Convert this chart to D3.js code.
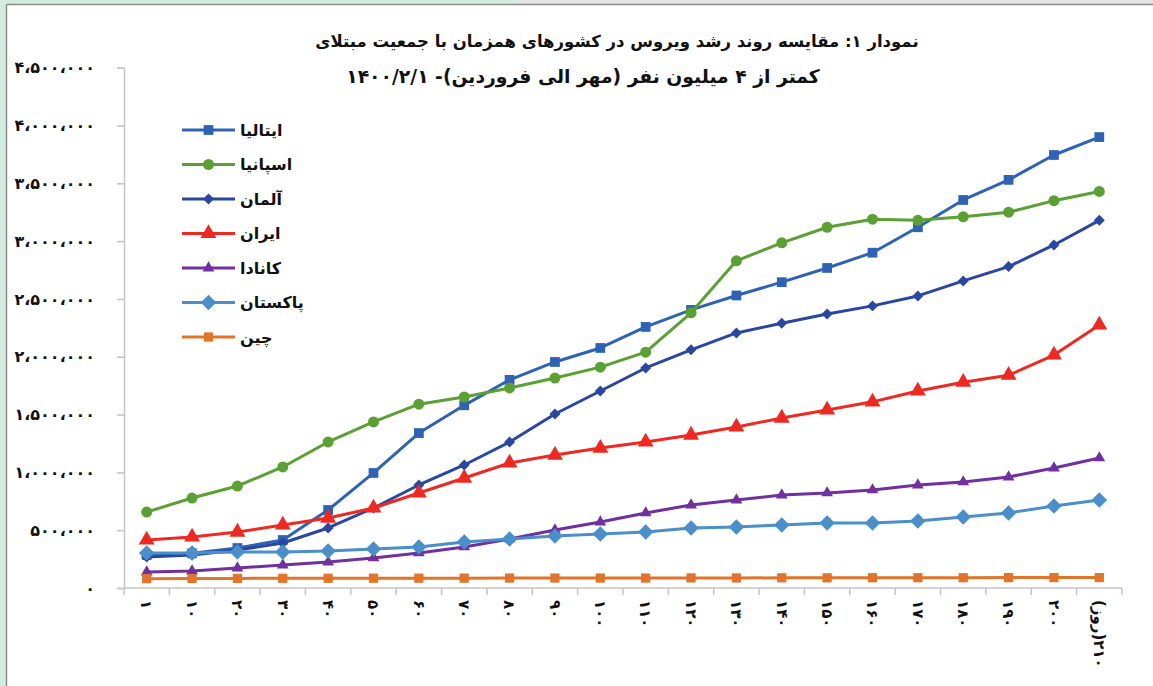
<!DOCTYPE html>
<html>
<head>
<meta charset="utf-8">
<script src="https://cdn.jsdelivr.net/npm/d3@7"></script>
<style>
  body { margin: 0; background: #fff; }
  svg { display: block; }
</style>
</head>
<body>
<div id="chart"></div>
<script>
// tick labels of the category axis (days)
const days = ["۱", "۱۰", "۲۰", "۳۰", "۴۰", "۵۰", "۶۰", "۷۰", "۸۰", "۹۰", "۱۰۰",
              "۱۱۰", "۱۲۰", "۱۳۰", "۱۴۰", "۱۵۰", "۱۶۰", "۱۷۰", "۱۸۰", "۱۹۰", "۲۰۰", "۲۱۰(روز)"];

// cumulative cases per country
const italy    = [285000, 300000, 346000, 415000, 675000, 995000, 1340000, 1580000, 1800000, 1955000, 2076000,
                  2258000, 2405000, 2530000, 2645000, 2768000, 2900000, 3120000, 3356000, 3530000, 3745000, 3900000];
const spain    = [657000, 778000, 882000, 1047000, 1263000, 1436000, 1590000, 1652000, 1730000, 1816000, 1910000,
                  2040000, 2380000, 2830000, 2985000, 3120000, 3190000, 3180000, 3210000, 3250000, 3350000, 3430000];
const germany  = [268000, 285000, 329000, 389000, 519000, 692000, 891000, 1064000, 1263000, 1505000, 1704000,
                  1903000, 2060000, 2206000, 2290000, 2370000, 2440000, 2526000, 2656000, 2780000, 2967000, 3180000];
const iran     = [415000, 441000, 484000, 545000, 605000, 692000, 822000, 951000, 1081000, 1150000, 1210000,
                  1263000, 1323000, 1393000, 1470000, 1540000, 1610000, 1704000, 1780000, 1840000, 2015000, 2275000];
const canada   = [138000, 147000, 173000, 199000, 225000, 260000, 303000, 355000, 424000, 502000, 571000,
                  649000, 718000, 761000, 804000, 822000, 848000, 891000, 917000, 960000, 1038000, 1125000];
const pakistan = [303000, 303000, 311000, 311000, 320000, 337000, 355000, 398000, 424000, 450000, 467000,
                  484000, 519000, 528000, 545000, 562000, 562000, 580000, 614000, 649000, 709000, 761000];
const china    = [81000, 82000, 83000, 84000, 84000, 85000, 85000, 85000, 86000, 86000, 86000,
                  86000, 87000, 87000, 88000, 88000, 89000, 89000, 89000, 90000, 90000, 90000];

const names = ["ایتالیا", "اسپانیا", "آلمان", "ایران", "کانادا", "پاکستان", "چین"];
const yTicks = d3.range(0, 4500001, 500000);

const titleLines = ["نمودار ۱: مقایسه روند رشد ویروس در کشورهای همزمان با جمعیت مبتلای",
                    "کمتر از ۴ میلیون  نفر (مهر الی فروردین)- ۱۴۰۰/۲/۱"];

// series styling, built from the arrays above
const diamond = { draw(ctx, size) { // square turned 45deg, like Excel's diamond
    const r = Math.sqrt(size / 2);
    ctx.moveTo(0, -r); ctx.lineTo(r, 0); ctx.lineTo(0, r); ctx.lineTo(-r, 0); ctx.closePath();
}};
const series = [
    { name: names[0], values: italy,    colour: "#2e62b4", symbol: d3.symbolSquare,   size: 95 },
    { name: names[1], values: spain,    colour: "#5aa032", symbol: d3.symbolCircle,   size: 95 },
    { name: names[2], values: germany,  colour: "#2947a2", symbol: diamond,           size: 60 },
    { name: names[3], values: iran,     colour: "#ee2922", symbol: d3.symbolTriangle, size: 110 },
    { name: names[4], values: canada,   colour: "#7030a0", symbol: d3.symbolTriangle, size: 60 },
    { name: names[5], values: pakistan, colour: "#4a8fc9", symbol: diamond,           size: 120 },
    { name: names[6], values: china,    colour: "#e0742a", symbol: d3.symbolSquare,   size: 85 }
];

const width = 1153, height = 686;
const fontFa = "'DejaVu Sans', sans-serif";

// Persian digits with Arabic comma as thousands separator
const faDigits = "۰۱۲۳۴۵۶۷۸۹";
const toFa = (v) => d3.format(",")(v).replace(/\d/g, (c) => faDigits[+c]).replace(/,/g, "،");

const svg = d3.select("#chart").append("svg")
    .attr("width", width)
    .attr("height", height);

//Window frame round the chart
svg.append("rect").attr("width", width).attr("height", height).attr("fill", "#d4ebdf");
svg.append("rect").attr("x", 517).attr("y", 0).attr("width", width - 517).attr("height", 5).attr("fill", "#e4e4e4");
svg.append("rect").attr("x", 7).attr("y", 5).attr("width", width - 7).attr("height", height - 5).attr("fill", "#fff");
svg.append("line").attr("x1", 6.5).attr("y1", 4.5).attr("x2", width).attr("y2", 4.5)
    .attr("stroke", "#8c8c8c").attr("stroke-width", 1.5);
svg.append("line").attr("x1", 6.5).attr("y1", 4.5).attr("x2", 6.5).attr("y2", height)
    .attr("stroke", "#8c8c8c").attr("stroke-width", 1.5);

const x = d3.scaleBand().domain(d3.range(days.length)).range([124, 1122]);
const y = d3.scaleLinear().domain([0, 4500000]).range([588, 67.7]);
const cx = (i) => x(i) + x.bandwidth() / 2;

//Title, two lines, each fitted to the width it has in the picture
const titlePos = [{ cx: 617, y: 47, w: 604 }, { cx: 583, y: 83, w: 474 }];
titleLines.forEach((t, i) => {
    const el = svg.append("text")
        .attr("x", titlePos[i].cx)
        .attr("y", titlePos[i].y)
        .attr("direction", "rtl")
        .attr("text-anchor", "middle")
        .attr("font-family", fontFa)
        .attr("font-weight", "bold")
        .attr("font-size", 18)
        .attr("fill", "#111")
        .text(t);
    const w = el.node().getComputedTextLength();
    el.attr("font-size", 18 * titlePos[i].w / w);
});

//Y axis
const yAxis = svg.append("g")
    .attr("transform", "translate(124,0)")
    .call(d3.axisLeft(y).tickValues(yTicks).tickSize(7).tickPadding(22).tickFormat(toFa));
yAxis.select(".domain").attr("stroke", "#c4c4c4").attr("stroke-width", 1.5);
yAxis.selectAll(".tick line").attr("stroke", "#c4c4c4").attr("stroke-width", 1.5);
yAxis.selectAll(".tick text")
    .attr("font-family", fontFa)
    .attr("font-size", 16)
    .attr("font-weight", "bold")
    .attr("fill", "#111");

//X axis: line, ticks on band edges, rotated labels
const xAxis = svg.append("g");
xAxis.append("line")
    .attr("x1", x.range()[0]).attr("x2", x.range()[1])
    .attr("y1", y(0)).attr("y2", y(0))
    .attr("stroke", "#c4c4c4").attr("stroke-width", 1.5);
xAxis.selectAll(".xtick")
    .data(d3.range(days.length + 1))
    .enter()
    .append("line")
    .attr("x1", (i) => x.range()[0] + i * x.step())
    .attr("x2", (i) => x.range()[0] + i * x.step())
    .attr("y1", y(0))
    .attr("y2", y(0) + 7)
    .attr("stroke", "#c4c4c4").attr("stroke-width", 1.5);
xAxis.selectAll(".xlabel")
    .data(days)
    .enter()
    .append("text")
    .attr("transform", (d, i) => "translate(" + cx(i) + "," + (y(0) + 12) + ") rotate(90)")
    .attr("direction", "rtl")
    .attr("text-anchor", "end")
    .attr("dy", "0.35em")
    .attr("font-family", fontFa)
    .attr("font-size", 15)
    .attr("font-weight", "bold")
    .attr("fill", "#111")
    .text((d) => d);

//Lines and markers, drawn in legend order so china ends up on top
const line = d3.line()
    .x((d, i) => cx(i))
    .y((d) => y(d));

series.forEach((s) => {
    svg.append("path")
        .attr("d", line(s.values))
        .attr("fill", "none")
        .attr("stroke", s.colour)
        .attr("stroke-width", 3)
        .attr("stroke-linejoin", "round");
    svg.append("g")
        .selectAll("path")
        .data(s.values)
        .enter()
        .append("path")
        .attr("transform", (d, i) => "translate(" + cx(i) + "," + y(d) + ")")
        .attr("d", d3.symbol().type(s.symbol).size(s.size))
        .attr("fill", s.colour);
});

//Legend
const legend = svg.append("g").attr("transform", "translate(182,130)");
const rows = legend.selectAll("g")
    .data(series)
    .enter()
    .append("g")
    .attr("transform", (d, i) => "translate(0," + i * 34.5 + ")");
rows.append("line")
    .attr("x1", 0).attr("x2", 53)
    .attr("stroke", (d) => d.colour)
    .attr("stroke-width", 3);
rows.append("path")
    .attr("transform", "translate(26.5,0)")
    .attr("d", (d) => d3.symbol().type(d.symbol).size(d.size)())
    .attr("fill", (d) => d.colour);
rows.append("text")
    .attr("x", 58)
    .attr("dy", "0.35em")
    .attr("direction", "rtl")
    .attr("text-anchor", "end")
    .attr("font-family", fontFa)
    .attr("font-size", 16)
    .attr("font-weight", "bold")
    .attr("fill", "#111")
    .text((d) => d.name);
</script>
</body>
</html>
